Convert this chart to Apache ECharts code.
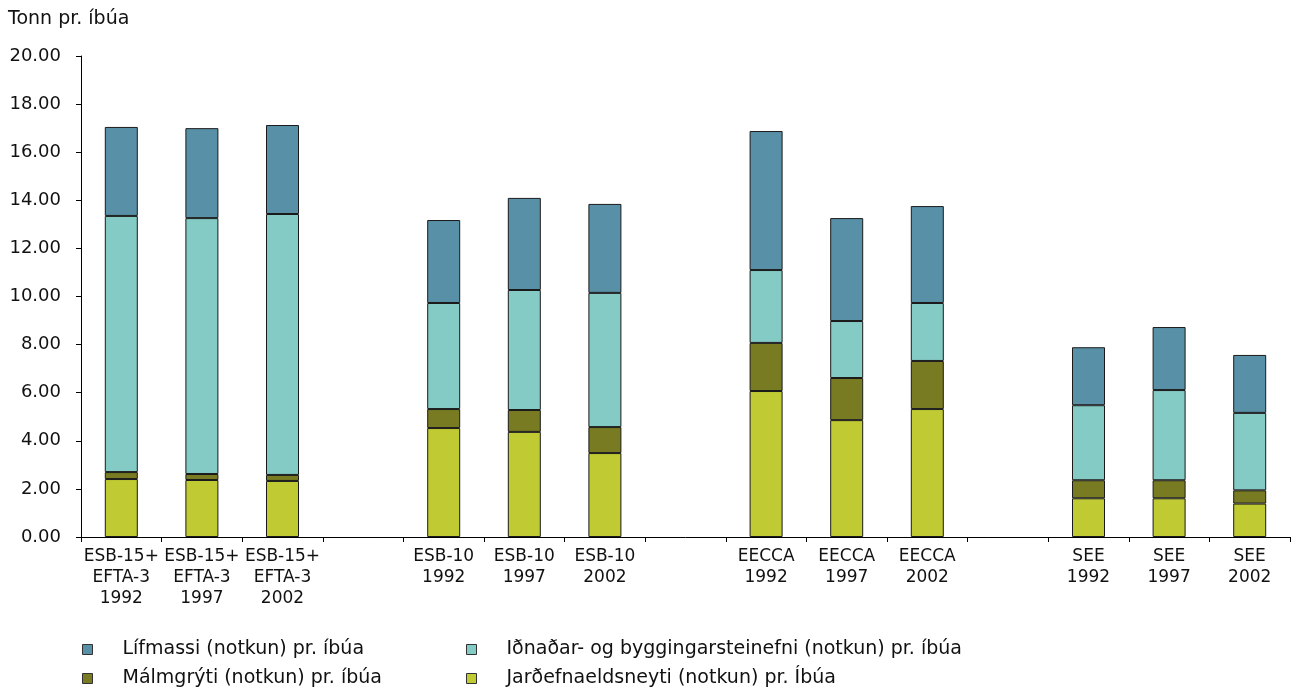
<!DOCTYPE html>
<html>
<head>
<meta charset="utf-8">
<script src="https://cdn.jsdelivr.net/npm/echarts@6/dist/echarts.min.js"></script>
<style>
  html, body { margin: 0; padding: 0; background: #fff; }
  #chart { width: 1293px; height: 690px; }
</style>
</head>
<body>
<div id="chart"></div>
<script>
// categories (empty names are the gaps between groups)
const categories = [
  'ESB-15+\nEFTA-3\n1992', 'ESB-15+\nEFTA-3\n1997', 'ESB-15+\nEFTA-3\n2002', '',
  'ESB-10\n1992', 'ESB-10\n1997', 'ESB-10\n2002', '',
  'EECCA\n1992', 'EECCA\n1997', 'EECCA\n2002', '',
  'SEE\n1992', 'SEE\n1997', 'SEE\n2002'
]

// tonn pr. íbúa, stacked bottom to top
const jardefni = [2.41, 2.37, 2.33, null, 4.53, 4.37, 3.49, null, 6.07, 4.86, 5.32, null, 1.61, 1.61, 1.39]
const malmgryti = [0.29, 0.25, 0.25, null, 0.79, 0.91, 1.08, null, 2.00, 1.75, 2.00, null, 0.75, 0.75, 0.55]
const idnadar = [10.65, 10.64, 10.85, null, 4.41, 4.99, 5.58, null, 3.03, 2.37, 2.41, null, 3.12, 3.75, 3.22]
const lifmassi = [3.70, 3.74, 3.70, null, 3.45, 3.83, 3.70, null, 5.78, 4.28, 4.03, null, 2.41, 2.62, 2.41]

const names = {
  lif: 'Lífmassi (notkun) pr. íbúa',
  idn: 'Iðnaðar- og byggingarsteinefni (notkun) pr. íbúa',
  malm: 'Málmgrýti (notkun) pr. íbúa',
  jard: 'Jarðefnaeldsneyti (notkun) pr. Íbúa'
}

const font = 'DejaVu Sans, Verdana, sans-serif'

function bar(name, data, color) {
  return {
    name: name,
    type: 'bar',
    stack: 'total',
    barWidth: 33,
    data: data,
    itemStyle: {
      color: color,
      borderColor: '#1a1a1a',
      borderWidth: 1
    }
  }
}

const legendBase = {
  orient: 'vertical',
  icon: 'rect',
  itemWidth: 10,
  itemHeight: 10,
  itemGap: 8,
  top: 639,
  height: 60,
  padding: 0,
  itemStyle: { borderColor: '#333', borderWidth: 1 },
  textStyle: {
    fontFamily: font,
    fontSize: 19,
    lineHeight: 21,
    color: '#111',
    padding: [0, 0, 0, 25]
  }
}

const chart = echarts.init(document.getElementById('chart'))
chart.setOption({
  backgroundColor: '#fff',
  animation: false,
  title: {
    text: 'Tonn pr. íbúa',
    left: 3,
    top: 5,
    textStyle: { fontFamily: font, fontSize: 19, fontWeight: 'normal', color: '#111' }
  },
  legend: [
    Object.assign({}, legendBase, { left: 82, data: [names.lif, names.malm] }),
    Object.assign({}, legendBase, { left: 466, data: [names.idn, names.jard] })
  ],
  grid: {
    left: 81,
    right: 3,
    top: 56,
    bottom: 153,
    containLabel: false
  },
  xAxis: {
    type: 'category',
    data: categories,
    boundaryGap: true,
    axisLine: { lineStyle: { color: '#000', width: 1 } },
    axisTick: { show: true, length: 5, lineStyle: { color: '#000' } },
    axisLabel: {
      interval: 0,
      margin: 9,
      fontFamily: font,
      fontSize: 17,
      lineHeight: 21,
      color: '#111'
    }
  },
  yAxis: {
    type: 'value',
    min: 0,
    max: 20,
    interval: 2,
    axisLine: { show: true, lineStyle: { color: '#000', width: 1 } },
    axisTick: { show: true, length: 5, lineStyle: { color: '#000' } },
    splitLine: { show: false },
    axisLabel: {
      margin: 20,
      fontFamily: font,
      fontSize: 18,
      color: '#111',
      formatter: v => v.toFixed(2)
    }
  },
  series: [
    bar(names.jard, jardefni, '#C0CA33'),
    bar(names.malm, malmgryti, '#787B21'),
    bar(names.idn, idnadar, '#84CAC5'),
    bar(names.lif, lifmassi, '#5891A7')
  ]
})
</script>
</body>
</html>
